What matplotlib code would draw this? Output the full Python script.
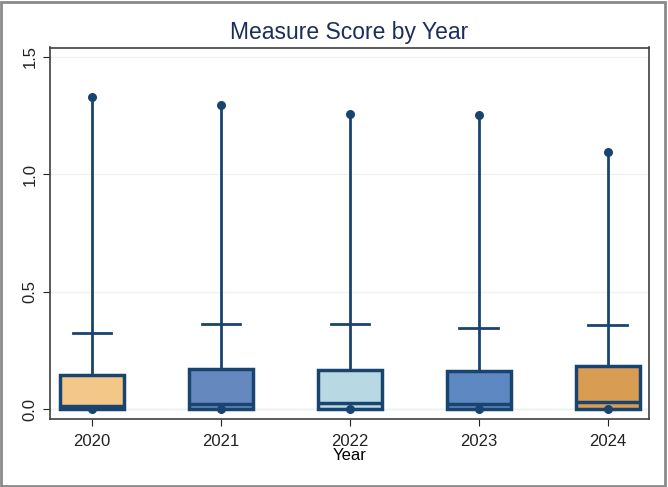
import matplotlib
matplotlib.use("Agg")
import matplotlib.pyplot as plt
from matplotlib.patches import Rectangle

years = ["2020", "2021", "2022", "2023", "2024"]
q1 = [0.0, 0.0, 0.0, 0.0, 0.0]
medians = [0.015, 0.022, 0.025, 0.023, 0.033]
q3 = [0.147, 0.170, 0.167, 0.164, 0.184]
whisk_hi = [0.323, 0.363, 0.363, 0.346, 0.358]
maxima = [1.329, 1.295, 1.258, 1.251, 1.094]
minima = [0.0, 0.0, 0.0, 0.0, 0.0]
fills = ["#F2C788", "#6589BF", "#B8D9E3", "#5D88C2", "#D99C53"]

navy = "#1A4470"
plt.rcParams['font.family'] = ['Liberation Sans', 'DejaVu Sans']

fig = plt.figure(figsize=(6.68, 4.87), dpi=100)
ax = fig.add_axes([49.5 / 668, 1 - 419 / 487, (649 - 49.5) / 668, (419 - 47.5) / 487])

pos = list(range(1, len(years) + 1))
stats = []
for i in range(len(years)):
    stats.append({"med": medians[i], "q1": q1[i], "q3": q3[i],
                  "whislo": q1[i], "whishi": whisk_hi[i], "fliers": []})

bp = ax.bxp(stats, positions=pos, widths=0.5, patch_artist=True,
            showcaps=True, showfliers=False,
            boxprops=dict(edgecolor=navy, linewidth=2.5),
            medianprops=dict(color=navy, linewidth=2.5),
            whiskerprops=dict(color=navy, linewidth=2),
            capprops=dict(color=navy, linewidth=2))
for patch, c in zip(bp["boxes"], fills):
    patch.set_facecolor(c)
for cap in bp["caps"]:
    x0, x1 = cap.get_xdata()
    m = (x0 + x1) / 2
    cap.set_xdata([m - 0.15, m + 0.15])

# outliers: dense column from whisker end up to the maximum
ax.vlines(pos, whisk_hi, maxima, color=navy, linewidth=2, zorder=2)
ax.scatter(pos, maxima, s=30, color=navy, zorder=3)
ax.scatter(pos, minima, s=30, color=navy, zorder=3)

ax.set_xlim(0.67, 5.32)
ax.set_ylim(-0.041, 1.539)
ax.set_yticks([0.0, 0.5, 1.0, 1.5])
ax.set_yticklabels(["0.0", "0.5", "1.0", "1.5"], rotation=90, va="center")
ax.set_xticks(pos)
ax.set_xticklabels(years)
ax.tick_params(labelsize=12, colors="#222222", length=5)
ax.tick_params(axis="x", pad=6)
ax.yaxis.grid(True, color="#EEF1F1", linewidth=1)
ax.axhline(0, color="#E8EDED", linewidth=1, zorder=0.5)
ax.set_axisbelow(True)
for s in ax.spines.values():
    s.set_color("#404040")
    s.set_linewidth(1.2)

ax.set_xlabel("Year", fontsize=12, labelpad=-1)
ax.set_title("Measure Score by Year", fontsize=16.5, color="#1B2E5C", pad=6)

fig.patches.append(Rectangle((0.002, 0.003), 0.994, 0.993, transform=fig.transFigure,
                             fill=False, edgecolor="#8A8A8A", linewidth=2))

fig.savefig("out.png", dpi=100)
